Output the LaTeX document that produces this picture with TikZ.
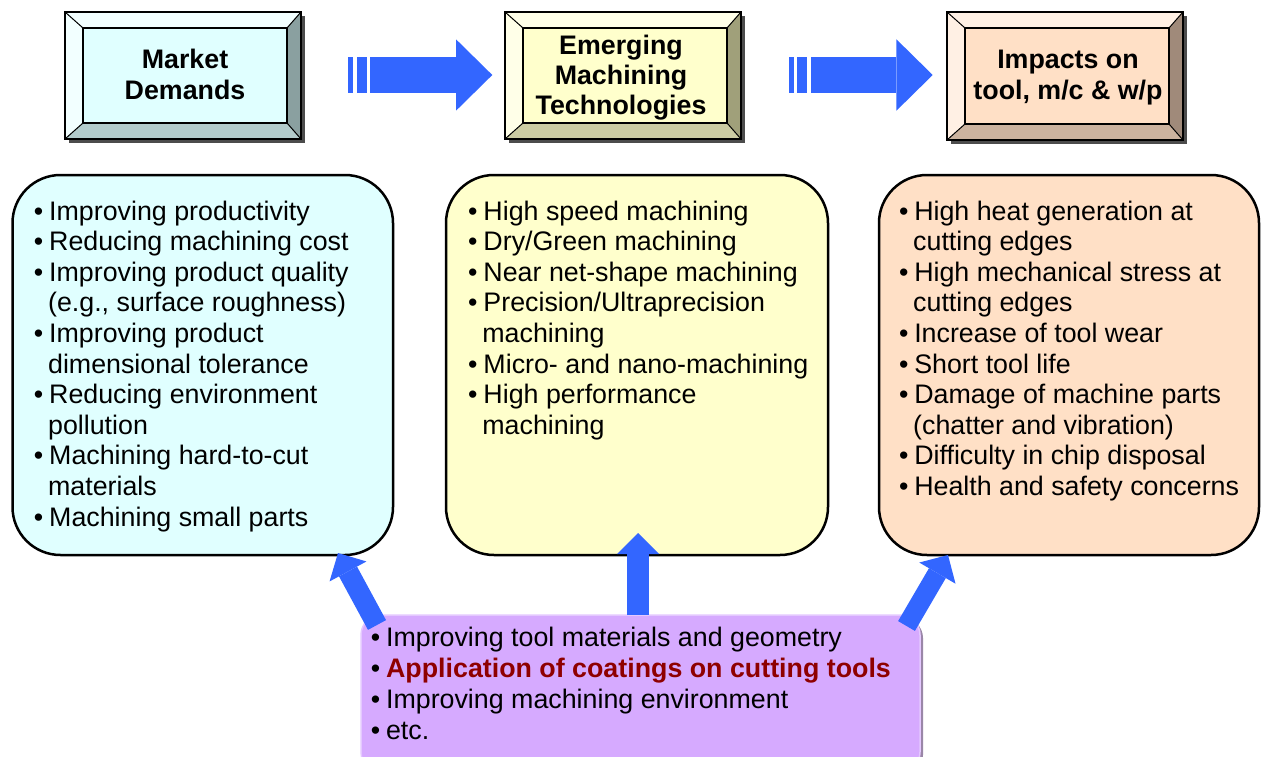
\documentclass[tikz,border=0pt]{standalone}
\usepackage{fontspec}
\setmainfont{Liberation Sans}
\usetikzlibrary{arrows.meta}
\definecolor{arrblue}{HTML}{3366FF}
\definecolor{cyanface}{HTML}{E0FFFF}
\definecolor{cyanlight}{HTML}{F2FFFF}
\definecolor{cyandark}{HTML}{8AA0A0}
\definecolor{cyanmid}{HTML}{B3CCCC}
\definecolor{yelface}{HTML}{FFFFCC}
\definecolor{yellight}{HTML}{FFFFE8}
\definecolor{yeldark}{HTML}{A0A07A}
\definecolor{yelmid}{HTML}{CCCCA3}
\definecolor{peachface}{HTML}{FFE0C6}
\definecolor{peachlight}{HTML}{FFF0E4}
\definecolor{peachdark}{HTML}{A08A7A}
\definecolor{peachmid}{HTML}{CCB39F}
\definecolor{purpface}{HTML}{D6AAFF}
\definecolor{purpedge}{HTML}{E4C8FF}
\definecolor{purpshadow}{HTML}{9A86A8}
\definecolor{darkred}{HTML}{8E0000}

\newcommand\bitem[1]{\hbox{\makebox[15.3pt][l]{\textbullet}#1}}
\newcommand\bcont[1]{\hbox{\hspace*{14.2pt}#1}}
\newcommand\blist[2]{\vtop{\baselineskip=#1\lineskiplimit=-60pt\lineskip=0pt #2}}
\newcommand\ctrline[1]{\hbox to 0pt{\hss #1\hss}}

% bevel box: x1,y1,x2,y2, face, light, dark(right), mid(bottom)
\newcommand\bevelbox[8]{%
  \fill[black!70] ({#1+4},{#2+4}) rectangle ({#3+4},{#4+4});
  \fill[#6] (#1,#2) -- (#3,#2) -- ({#3-14},{#2+16}) -- ({#1+18},{#2+16}) -- cycle;
  \fill[#6] (#1,#2) -- ({#1+18},{#2+16}) -- ({#1+18},{#4-16}) -- (#1,#4) -- cycle;
  \fill[#7] (#3,#2) -- (#3,#4) -- ({#3-14},{#4-16}) -- ({#3-14},{#2+16}) -- cycle;
  \fill[#8] (#1,#4) -- (#3,#4) -- ({#3-14},{#4-16}) -- ({#1+18},{#4-16}) -- cycle;
  \fill[#5] ({#1+18},{#2+16}) rectangle ({#3-14},{#4-16});
  \draw[line width=1.4pt] (#1,#2) rectangle (#3,#4);
  \draw[line width=1.4pt] ({#1+18},{#2+16}) rectangle ({#3-14},{#4-16});
  \draw[line width=1pt] (#1,#2) -- ({#1+18},{#2+16}) (#3,#2) -- ({#3-14},{#2+16})
     (#1,#4) -- ({#1+18},{#4-16}) (#3,#4) -- ({#3-14},{#4-16});
}

\tikzset{
  listtext/.style={inner sep=0pt, anchor=base west, font=\fontsize{26.8pt}{30.6pt}\selectfont},
  headtext/.style={inner sep=0pt, anchor=base, font=\fontsize{26.8pt}{31pt}\selectfont\bfseries},
  roundbox/.style={rounded corners=48pt, line width=2.5pt, draw=black},
  bigarrow/.style={draw=arrblue, line cap=butt, line width=35.4pt,
    -{Triangle[length=36.3pt, width=71.4pt, line width=0pt]}},
  smallarrow/.style={draw=arrblue, line cap=butt,
    -{Triangle[length=21pt, width=42pt, line width=0pt]}},
}

\begin{document}
\begin{tikzpicture}[x=1pt, y=-1pt]
\useasboundingbox (0,0) rectangle (1261,757);

% header boxes
\bevelbox{65}{12}{301}{139}{cyanface}{cyanlight}{cyandark}{cyanmid}
\bevelbox{505}{12}{741}{139}{yelface}{yellight}{yeldark}{yelmid}
\bevelbox{947}{12}{1183}{140}{peachface}{peachlight}{peachdark}{peachmid}

\node[headtext] (md) at (185,68.3) {\blist{31pt}{\ctrline{Market}\ctrline{Demands}}};
\node[headtext] (emt) at (621,55) {\blist{30pt}{\ctrline{Emerging}\ctrline{Machining}\ctrline{Technologies}}};
\node[headtext] (imp) at (1068,68.3) {\blist{31pt}{\ctrline{Impacts on}\ctrline{tool, m/c \& w/p}}};

% header arrows
\fill[arrblue] (348.3,57.3) rectangle (352.7,92.7);
\fill[arrblue] (356.7,57.3) rectangle (366.7,92.7);
\coordinate (a1s) at (370,75);
\coordinate (a1t) at (492.3,75);
\draw[bigarrow] (a1s) -- (a1t);
\fill[arrblue] (789,57.3) rectangle (794,92.7);
\fill[arrblue] (796.7,57.3) rectangle (806.7,92.7);
\coordinate (a2s) at (811,75);
\coordinate (a2t) at (932.7,75);
\draw[bigarrow] (a2s) -- (a2t);

% rounded boxes
\draw[roundbox, fill=cyanface] (12.5,175) rectangle (393,555);
\draw[roundbox, fill=yelface] (446,175) rectangle (828,555);
\draw[roundbox, fill=peachface] (879,175) rectangle (1259,555);

\node[listtext] (lt) at (33.7,220) {\blist{30.6pt}{%
\bitem{Improving productivity}
\bitem{Reducing machining cost}
\bitem{Improving product quality}
\bcont{(e.g., surface roughness)}
\bitem{Improving product}
\bcont{dimensional tolerance}
\bitem{Reducing environment}
\bcont{pollution}
\bitem{Machining hard-to-cut}
\bcont{materials}
\bitem{Machining small parts}}};

\node[listtext] (mt) at (468,220) {\blist{30.6pt}{%
\bitem{High speed machining}
\bitem{Dry/Green machining}
\bitem{Near net-shape machining}
\bitem{Precision/Ultraprecision}
\bcont{machining}
\bitem{Micro- and nano-machining}
\bitem{High performance}
\bcont{machining}}};

\node[listtext] (rt) at (898.8,220) {\blist{30.6pt}{%
\bitem{High heat generation at}
\bcont{cutting edges}
\bitem{High mechanical stress at}
\bcont{cutting edges}
\bitem{Increase of tool wear}
\bitem{Short tool life}
\bitem{Damage of machine parts}
\bcont{(chatter and vibration)}
\bitem{Difficulty in chip disposal}
\bitem{Health and safety concerns}}};

% bottom box
\fill[purpshadow, rounded corners=20pt] (364,618) rectangle (923,775);
\draw[fill=purpface, draw=purpedge, line width=1.5pt, rounded corners=20pt] (361,615) rectangle (920,772);

\node[listtext] (bt) at (370.6,646.7) {\blist{31pt}{%
\bitem{Improving tool materials and geometry}
\bitem{\textcolor{darkred}{\bfseries Application of coatings on cutting tools}}
\bitem{Improving machining environment}
\bitem{etc.}}};

% bottom arrows
\coordinate (b1s) at (377,625);
\coordinate (b1t) at (338,553);
\coordinate (b2s) at (638,615);
\coordinate (b2t) at (638,533);
\coordinate (b3s) at (906.5,626);
\coordinate (b3t) at (948,555);
\draw[smallarrow, line width=20.5pt] (b1s) -- (b1t);
\draw[smallarrow, line width=22pt] (b2s) -- (b2t);
\draw[smallarrow, line width=19.5pt] (b3s) -- (b3t);
\end{tikzpicture}
\end{document}
